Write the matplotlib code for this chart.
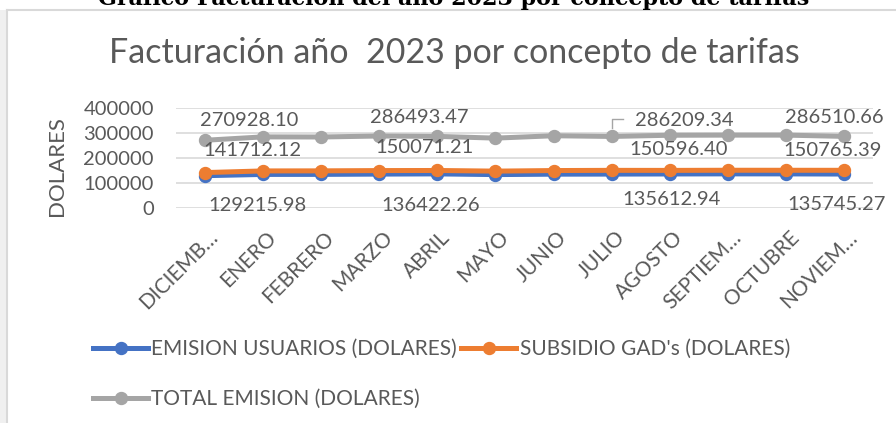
import matplotlib
matplotlib.use("Agg")
import matplotlib.pyplot as plt
from matplotlib.lines import Line2D
from matplotlib.patches import Rectangle
from matplotlib.transforms import ScaledTranslation

plt.rcParams['font.family'] = ['Lato', 'DejaVu Sans']

# data
meses = ["DICIEMB…", "ENERO", "FEBRERO", "MARZO", "ABRIL", "MAYO", "JUNIO",
         "JULIO", "AGOSTO", "SEPTIEM…", "OCTUBRE", "NOVIEM…"]
emision = [129215.98, 134300, 134500, 135600, 136422.26, 133600, 135300,
           135612.94, 136100, 136500, 136400, 135745.27]
subsidio = [141712.12, 148300, 148600, 149700, 150071.21, 147500, 149800,
            150596.40, 150400, 151000, 150900, 150765.39]
total = [270928.10, 284500, 284000, 288000, 286493.47, 279500, 289000,
         286209.34, 291000, 291500, 291500, 286510.66]

# months that carry data labels, and where each label was dragged to (x, y in data units)
idx_etiq = [0, 4, 7, 11]
pos_total = [(0.76, 352000), (3.68, 362000), (8.25, 352000), (10.83, 362000)]
pos_subsidio = [(0.81, 230000), (3.77, 242000), (8.16, 234000), (10.80, 230000)]
pos_emision = [(0.91, 10000), (3.89, 12000), (8.04, 34000), (10.88, 14000)]

AZUL = "#4472c4"
NARANJA = "#ed7d31"
GRIS = "#a5a5a5"
TEXTO = "#595959"

W, H = 896, 423
fig = plt.figure(figsize=(W / 100, H / 100), dpi=100, facecolor="white")

# chart frame, as in the pasted Excel object
fig.patches.append(Rectangle((0, 0), 6 / W, 1 - 10 / H, transform=fig.transFigure,
                             facecolor="#f0f0f0", edgecolor="none"))
fig.add_artist(Line2D([7 / W, 7 / W], [0, 1 - 10 / H], color="#d9d9d9", lw=1.5))
fig.add_artist(Line2D([7 / W, 1], [1 - 10 / H, 1 - 10 / H], color="#d9d9d9", lw=1.5))

# document heading, cut off at the top like in the source
fig.text(454 / W, 1 - 5 / H, "Gráfico Facturación del año 2023 por concepto de tarifas",
         family="DejaVu Serif", weight="bold", fontsize=16, ha="center", va="baseline",
         color="black")

ax = fig.add_axes([176 / W, 1 - 208 / H, 697 / W, 100 / H])
x = list(range(len(meses)))

ax.plot(x, total, color=GRIS, lw=3.6, marker="o", ms=8.6, solid_capstyle="round")
ax.plot(x, emision, color=AZUL, lw=3.6, marker="o", ms=8.6, solid_capstyle="round")
ax.plot(x, subsidio, color=NARANJA, lw=3.6, marker="o", ms=8.6, solid_capstyle="round")

ax.set_xlim(-0.5, len(meses) - 0.5)
ax.set_ylim(0, 400000)
ax.set_yticks(range(0, 400001, 100000))
ax.set_yticklabels([str(v) for v in range(0, 400001, 100000)])
ax.grid(axis="y", color="#d9d9d9", lw=1.2)
ax.set_axisbelow(True)
for s in ax.spines.values():
    s.set_visible(False)
ax.tick_params(axis="y", length=0, pad=16, labelsize=14.5, labelcolor=TEXTO)
ax.tick_params(axis="x", length=0, pad=19, labelsize=15, labelcolor=TEXTO)
ax.set_xticks(x)
ax.set_xticklabels(meses, rotation=45, ha="right", va="center", rotation_mode="anchor")
for lbl in ax.get_xticklabels():
    lbl.set_transform(lbl.get_transform() + ScaledTranslation(0.1, 0, fig.dpi_scale_trans))

# data labels
for serie, pos in [(total, pos_total), (subsidio, pos_subsidio), (emision, pos_emision)]:
    for i, (lx, ly) in zip(idx_etiq, pos):
        ax.text(lx, ly, f"{serie[i]:.2f}", ha="center", va="center", fontsize=14.5,
                color=TEXTO, clip_on=False)

# leader line of the moved JULIO total label
ax.plot([7.19, 7.0, 7.0], [356000, 356000, 322000], color=GRIS, lw=1, clip_on=False)

fig.text(57 / W, 1 - 166 / H, "DOLARES", rotation=90, ha="center", va="center",
         fontsize=16, color=TEXTO)

fig.text(454 / W, 1 - 53 / H, "Facturación año  2023 por concepto de tarifas",
         ha="center", va="center", fontsize=24.5, color=TEXTO)

handles = [Line2D([], [], color=c, lw=3.6, marker="o", ms=8.6) for c in (AZUL, GRIS, NARANJA)]
nombres = ["EMISION USUARIOS (DOLARES)", "TOTAL EMISION (DOLARES)", "SUBSIDIO GAD's (DOLARES)"]
fig.legend(handles, nombres, loc="upper left", bbox_to_anchor=(93 / W, 1 - 339 / H),
           ncol=2, frameon=False, fontsize=15, labelcolor=TEXTO, handlelength=2.65,
           handletextpad=0.15, columnspacing=0.2, labelspacing=1.45, borderpad=0,
           borderaxespad=0)

fig.savefig("out.png", dpi=100, facecolor="white")
